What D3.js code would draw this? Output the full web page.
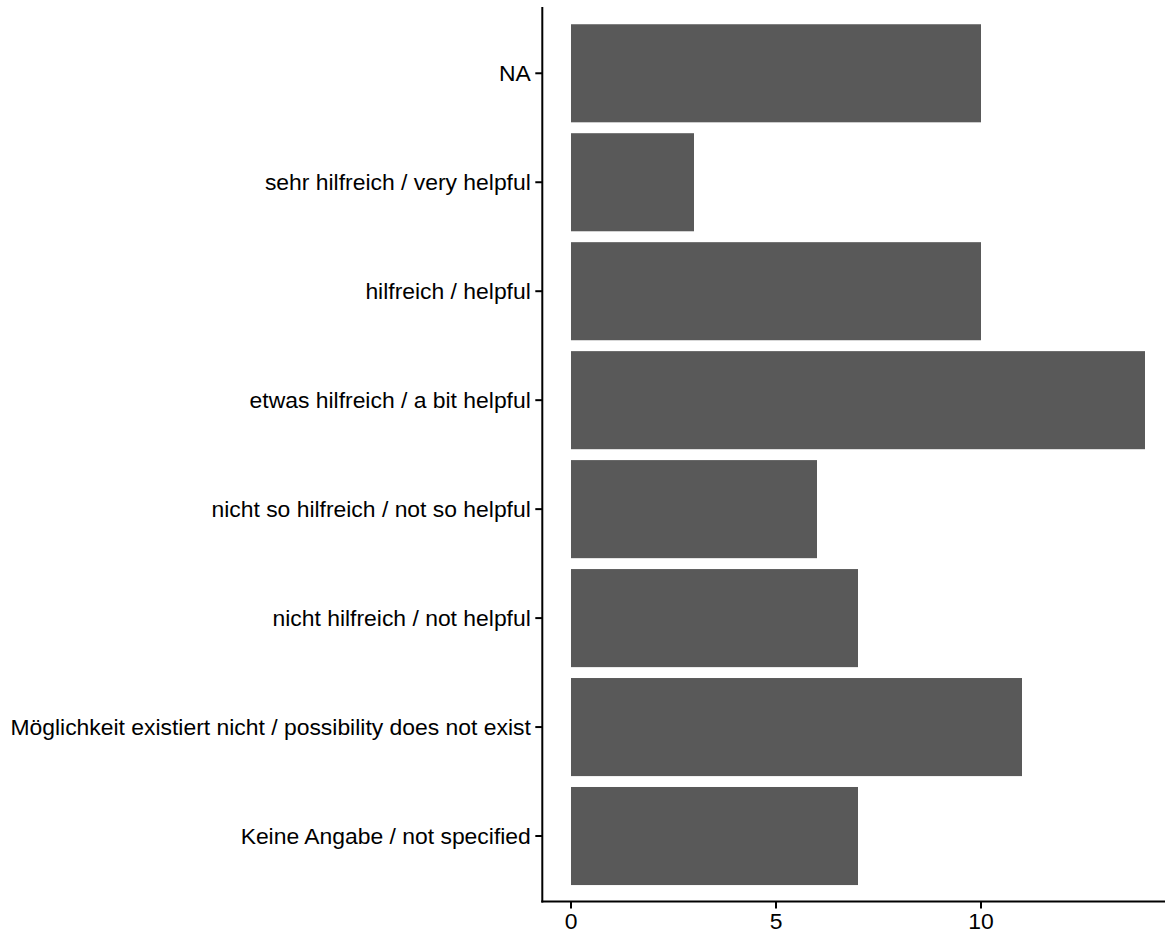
<!DOCTYPE html>
<html><head><meta charset="utf-8">
<script src="https://cdn.jsdelivr.net/npm/d3@7"></script>
<style>body{margin:0;background:#fff}</style>
</head><body>
<svg id="c" width="1165" height="934"></svg>
<script>
const categories = ["NA","sehr hilfreich / very helpful","hilfreich / helpful","etwas hilfreich / a bit helpful","nicht so hilfreich / not so helpful","nicht hilfreich / not helpful","Möglichkeit existiert nicht / possibility does not exist","Keine Angabe / not specified"];
const counts = [10,3,10,14,6,7,11,7];
const xTicks = [0,5,10];

(function(){
const svg = d3.select("#c");
const L = 542.3, R = 1173.7, T = 7.9, B = 901.4;
const x = d3.scaleLinear().domain([-0.7, 14.7]).range([L, R]);
// ggplot: 0.6 unit expansion, bar width 0.9
const y = d3.scaleBand().domain(categories).range([T, B]).paddingInner(0.1).paddingOuter(0.15);
const yc = d => y(d) + y.bandwidth()/2;

svg.append("g").selectAll("rect").data(categories).join("rect")
  .attr("x", x(0)).attr("y", d => y(d))
  .attr("width", (d,i) => x(counts[i]) - x(0)).attr("height", y.bandwidth())
  .attr("fill", "#595959");

const font = "'Liberation Sans', Arial, sans-serif";
const fs = 22.9, lw = 2, tl = 7;
const ga = svg.append("g");
ga.append("line").attr("x1", L).attr("x2", L).attr("y1", T).attr("y2", B)
  .attr("stroke", "#000").attr("stroke-width", lw).attr("stroke-linecap","square");
ga.selectAll(".yt").data(categories).join("line")
  .attr("x1", L - tl).attr("x2", L).attr("y1", d => yc(d)).attr("y2", d => yc(d))
  .attr("stroke", "#000").attr("stroke-width", lw);
ga.selectAll(".yl").data(categories).join("text")
  .attr("x", L - 11.5).attr("y", d => yc(d)).attr("dy", "0.35em")
  .attr("text-anchor", "end").attr("font-family", font).attr("font-size", fs)
  .attr("fill", "#000").text(d => d);
ga.append("line").attr("x1", L).attr("x2", R).attr("y1", B).attr("y2", B)
  .attr("stroke", "#000").attr("stroke-width", lw).attr("stroke-linecap","square");
ga.selectAll(".xt").data(xTicks).join("line")
  .attr("x1", d => x(d)).attr("x2", d => x(d)).attr("y1", B).attr("y2", B + tl)
  .attr("stroke", "#000").attr("stroke-width", lw);
ga.selectAll(".xl").data(xTicks).join("text")
  .attr("x", d => x(d)).attr("y", B + 28)
  .attr("text-anchor", "middle").attr("font-family", font).attr("font-size", fs)
  .attr("fill", "#000").text(d => d);
})();
</script>
</body></html>
